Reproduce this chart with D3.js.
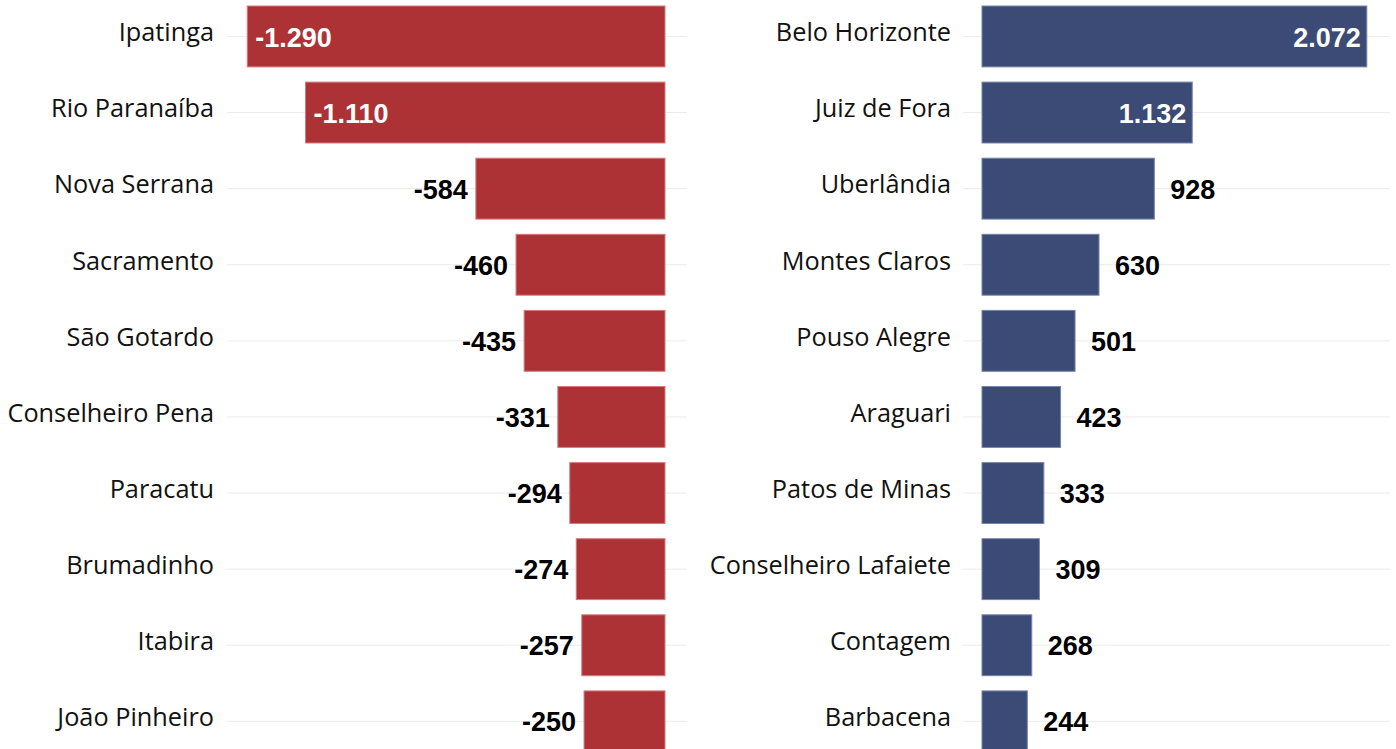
<!DOCTYPE html>
<html>
<head>
<meta charset="utf-8">
<script src="https://cdn.jsdelivr.net/npm/d3@7"></script>
<style>
  body { margin: 0; background: #fff; }
  svg { display: block; }
</style>
</head>
<body>
<svg></svg>
<script>
// saldo negativo (esquerda) e positivo (direita)
const negCities = ["Ipatinga", "Rio Paranaíba", "Nova Serrana", "Sacramento", "São Gotardo",
    "Conselheiro Pena", "Paracatu", "Brumadinho", "Itabira", "João Pinheiro"]
const negValues = [-1290, -1110, -584, -460, -435, -331, -294, -274, -257, -250]

const posCities = ["Belo Horizonte", "Juiz de Fora", "Uberlândia", "Montes Claros", "Pouso Alegre",
    "Araguari", "Patos de Minas", "Conselheiro Lafaiete", "Contagem", "Barbacena"]
const posValues = [2072, 1132, 928, 630, 501, 423, 333, 309, 268, 244]

const fmt = v => d3.format(",")(v).replace(/,/g, ".").replace("−", "-")

let
    svgWidth = 1396,
    svgHeight = 749

let svg = d3.select("svg")
    .attr("width", svgWidth)
    .attr("height", svgHeight)

let y_scale = d3.scaleBand()
    .domain(d3.range(10))
    .range([-1.6, -1.6 + 10 * 76.1])
    .paddingInner(0.2)
    .paddingOuter(0.1)

let x_neg = d3.scaleLinear().domain([-1300, 0]).range([244, 665])
let x_pos = d3.scaleLinear().domain([0, 2100]).range([982, 1372])

function drawPanel(cities, values, x, opts) {
    let g = svg.append("g")
    let rows = d3.range(values.length)

    // gridlines
    g.selectAll(".grid")
        .data(rows)
        .join("line")
        .attr("x1", opts.gridFrom)
        .attr("x2", opts.gridTo)
        .attr("y1", i => y_scale(i) + y_scale.bandwidth() / 2)
        .attr("y2", i => y_scale(i) + y_scale.bandwidth() / 2)
        .attr("stroke", "#ebebeb")
        .attr("stroke-width", 1)

    // bars
    g.selectAll(".bar")
        .data(rows)
        .join("rect")
        .attr("x", i => Math.min(x(values[i]), x(0)))
        .attr("width", i => Math.abs(x(values[i]) - x(0)))
        .attr("y", i => y_scale(i))
        .attr("height", y_scale.bandwidth())
        .attr("fill", opts.color)
        .attr("stroke", opts.edge)
        .attr("stroke-width", 1)

    // city names
    g.selectAll(".cat")
        .data(rows)
        .join("text")
        .attr("x", opts.labelX)
        .attr("y", i => y_scale(i) + y_scale.bandwidth() / 2 - 2)
        .attr("dominant-baseline", "middle")
        .attr("text-anchor", "end")
        .attr("font-family", "'Open Sans', 'Noto Sans', sans-serif")
        .attr("font-size", 25.3)
        .attr("fill", "#111")
        .text(i => cities[i])

    // value labels
    g.selectAll(".val")
        .data(rows)
        .join("text")
        .attr("x", i => {
            let inside = Math.abs(values[i]) >= 1000
            return x(values[i]) + opts.dir * (inside ? -opts.padIn : opts.padOut)
        })
        .attr("y", i => y_scale(i) + y_scale.bandwidth() / 2 + 3)
        .attr("dominant-baseline", "middle")
        .attr("text-anchor", i => {
            let inside = Math.abs(values[i]) >= 1000
            if (opts.dir < 0) return inside ? "start" : "end"
            return inside ? "end" : "start"
        })
        .attr("font-family", "'Liberation Sans', Arial, sans-serif")
        .attr("font-weight", "bold")
        .attr("font-size", 27)
        .attr("fill", i => Math.abs(values[i]) >= 1000 ? "#fff" : "#000")
        .text(i => fmt(values[i]))
}

drawPanel(negCities, negValues, x_neg, {
    color: "#ad3236", edge: "#d9787a", dir: -1, padIn: 8, padOut: 8,
    labelX: 214, gridFrom: 227, gridTo: 687
})

drawPanel(posCities, posValues, x_pos, {
    color: "#3b4b75", edge: "#7584ab", dir: 1, padIn: 6, padOut: 16,
    labelX: 951, gridFrom: 963, gridTo: 1390
})
</script>
</body>
</html>
